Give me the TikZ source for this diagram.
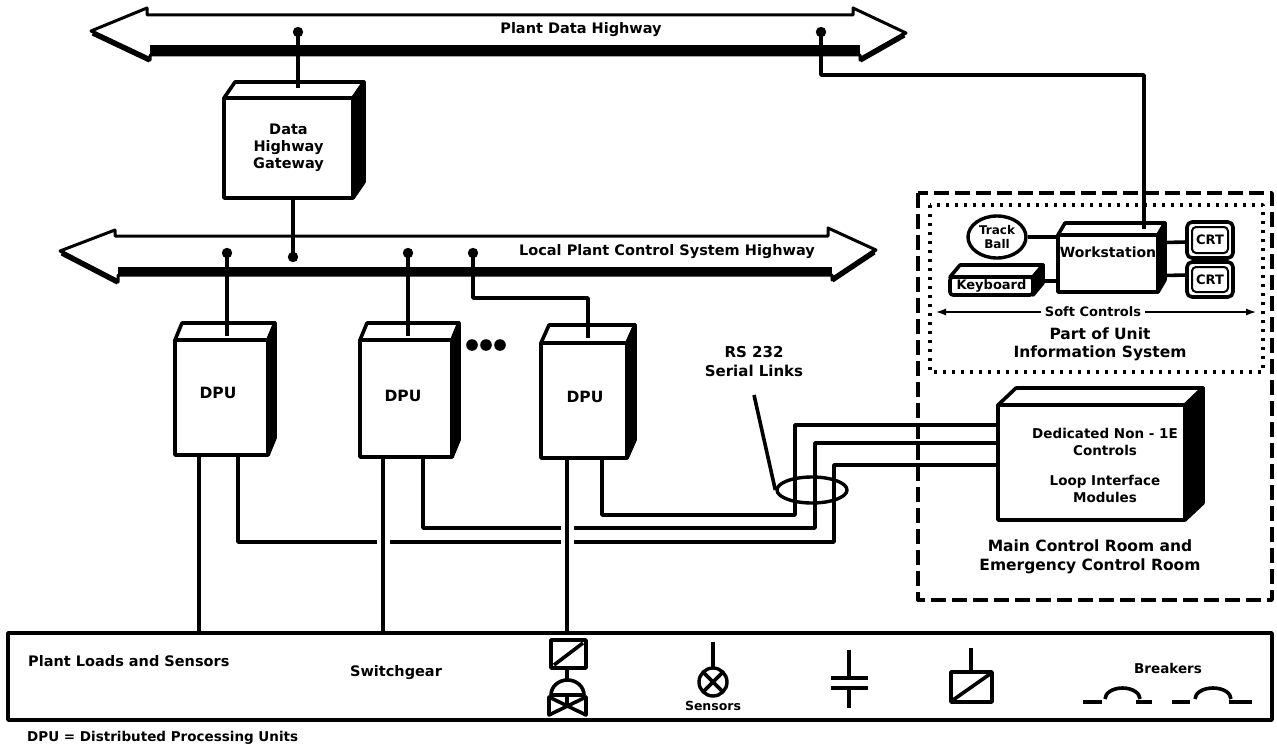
\documentclass[tikz,border=0pt]{standalone}
\usepackage{fontspec}
\setmainfont{DejaVu Sans}
\usetikzlibrary{calc,arrows.meta,shapes.geometric}
\newcommand\cubefaces[3]{%
  \draw[ln,fill=white] (#1.north west) -- ++(#2,-#3) -- ($(#1.north east)+(#2,-#3)$) -- (#1.north east) -- cycle;
  \draw[ln,fill=black] (#1.north east) -- ++(#2,-#3) -- ($(#1.south east)+(#2,-#3)$) -- (#1.south east) -- cycle;
}
\begin{document}
\begin{tikzpicture}[x=1pt,y=-1pt,line join=round,
  ln/.style={line width=3.6pt},
  fr/.style={draw,line width=3.6pt,inner sep=0pt,outer sep=0pt,fill=white},
  lab/.style={font=\bfseries\fontsize{14.5}{17}\selectfont,align=center,inner sep=0pt},
  sml/.style={font=\bfseries\fontsize{12}{14}\selectfont,align=center,inner sep=0pt},
  pin/.style={fill=black},
]
\useasboundingbox (0,0) rectangle (1277,749);

% ---------- Plant Data Highway ----------
\draw[line width=3pt,fill=white] (91,31) -- (147,8) -- (147,15) -- (853,15) -- (853,8) -- (906,33)
  -- (860,60) -- (860,55) -- (150,55) -- (150,60) -- cycle;
\fill (150,45) rectangle (860,55);
\draw[line width=5.5pt] (93,33) -- (150,60);
\draw[line width=5.5pt] (904,35) -- (860,60);
\node[lab] (pdh) at (581,30) {Plant Data Highway};

% ---------- Local Plant Control System Highway ----------
\draw[line width=3pt,fill=white] (60,251) -- (115,230) -- (115,236) -- (828,236) -- (828,228) -- (876,250)
  -- (832,280) -- (832,275) -- (118,275) -- (118,282) -- cycle;
\fill (118,267) rectangle (832,275);
\draw[line width=5.5pt] (62,253) -- (118,282);
\draw[line width=5.5pt] (874,252) -- (832,280);
\node[lab] (lpc) at (667,252) {Local Plant Control System Highway};

% ---------- pins ----------
\coordinate (pg) at (298,32);
\coordinate (pw) at (821,32);
\coordinate (pgl) at (293,257);
\coordinate (pd1) at (227,253);
\coordinate (pd2) at (408,253);
\coordinate (pd3) at (473,253);
\foreach \p in {pg,pw,pgl,pd1,pd2,pd3} \fill[pin] (\p) circle (5.2);

% ---------- Gateway ----------
\node[fr,minimum width=129pt,minimum height=100pt] (gw) at (288.5,148) {};
\cubefaces{gw}{11}{16}
\node[lab] (gwl) at (gw) {Data\\Highway\\Gateway};
\coordinate (gwtop) at (298,88);
\draw[ln] (pg) -- (gwtop);
\draw[ln] (pgl |- gw.south) -- (pgl);

% ---------- DPUs ----------
\node[fr,minimum width=93pt,minimum height=115pt] (dpu1) at (221.5,397.5) {};
\cubefaces{dpu1}{7}{17}
\node[fr,minimum width=92pt,minimum height=117pt] (dpu2) at (406,398.5) {};
\cubefaces{dpu2}{7}{17}
\node[fr,minimum width=86pt,minimum height=115pt] (dpu3) at (584,400.5) {};
\cubefaces{dpu3}{8}{18}
\node[lab,font=\bfseries\fontsize{15.5}{17}\selectfont] (l1) at (218,393) {DPU};
\node[lab,font=\bfseries\fontsize{15.5}{17}\selectfont] (l2) at (403,396) {DPU};
\node[lab,font=\bfseries\fontsize{15.5}{17}\selectfont] (l3) at (585,397) {DPU};
\foreach \x in {472,486,500} \fill (\x,345) circle (5.8);

\coordinate (t1) at (227,336);
\coordinate (t2) at (408,336);
\coordinate (t3) at (588,338);
\draw[ln] (pd1) -- (t1);
\draw[ln] (pd2) -- (t2);
\draw[ln] (pd3) -- (473,298) -| (t3);

% ---------- Plant box ----------
\node[fr,minimum width=1264pt,minimum height=87pt] (plant) at (640,676.5) {};
\node[lab,anchor=west] (plt) at (28,661) {Plant Loads and Sensors};
\node[lab] (swg) at (396,673) {Switchgear};

% ---------- Main control room ----------
\draw[line width=3.4pt,dash pattern=on 15pt off 6pt] (918,193) rectangle (1272,600);
\draw[line width=3.4pt,dash pattern=on 3pt off 6pt] (930,205) rectangle (1263,372);

\node[fr,minimum width=187pt,minimum height=115pt] (main) at (1091.5,462.5) {};
\cubefaces{main}{18}{17}
\node[lab,font=\bfseries\fontsize{13.5}{17}\selectfont] (m1) at (1105,442) {Dedicated Non - 1E\\Controls};
\node[lab,font=\bfseries\fontsize{13.5}{17}\selectfont] (m2) at (1105,489) {Loop Interface\\Modules};
\node[lab,font=\bfseries\fontsize{15.5}{19}\selectfont] (mcr) at (1090,557) {Main Control Room and\\Emergency Control Room};

% ---------- wiring DPU -> main ----------
\coordinate (d1a) at ($(dpu1.south west)+(24,0)$);
\coordinate (d1b) at ($(dpu1.south west)+(63,0)$);
\coordinate (d2a) at ($(dpu2.south west)+(23,0)$);
\coordinate (d2b) at ($(dpu2.south west)+(63,0)$);
\coordinate (d3a) at ($(dpu3.south west)+(26,0)$);
\coordinate (d3b) at ($(dpu3.south west)+(61,0)$);
\draw[ln] (d3b) -- (602,515) -- (795,515) -- (795,425) -- (main.west |- 0,425);
\draw[ln] (d2b) -- (423,528) -- (815,528) -- (815,443) -- (main.west |- 0,443);
\draw[ln] (d1b) -- (238,542) -- (834,542) -- (834,465) -- (main.west |- 0,465);
\draw[white,line width=13pt] ($(d2a)+(0,6)$) -- ($(d2a |- plant.north)+(0,-6)$);
\draw[white,line width=13pt] ($(d3a)+(0,6)$) -- ($(d3a |- plant.north)+(0,-6)$);
\draw[ln] (d1a) -- (d1a |- plant.north);
\draw[ln] (d2a) -- (d2a |- plant.north);
\draw[ln] (d3a) -- (d3a |- plant.north);
\node[draw,line width=3.4pt,ellipse,minimum width=70pt,minimum height=26pt,inner sep=0pt] (bundle) at (812,490) {};
\node[lab,font=\bfseries\fontsize{15}{19}\selectfont] (rs) at (754,362) {RS 232\\Serial Links};
\coordinate (rsp) at (754,395);
\draw[ln] (rsp) -- (bundle.west);

% ---------- Workstation group ----------
\node[fr,minimum width=100pt,minimum height=57pt] (ws) at (1108,263.5) {};
\cubefaces{ws}{7}{12}
\node[lab,font=\bfseries\fontsize{14}{16}\selectfont] (wsl) at (1108,252) {Workstation};
\coordinate (wstop) at (1144,229);
\draw[ln] (pw) -- (821,75) -| (wstop);

\node[draw,line width=3.4pt,ellipse,minimum width=58pt,minimum height=42pt,inner sep=0pt,fill=white] (tb) at (997,237) {};
\node[sml] (tbl) at (tb) {Track\\Ball};
\draw[ln] (tb.east) -- (tb.east -| ws.west);

\node[fr,minimum width=83pt,minimum height=18pt,rounded corners=3pt] (kb) at (991.5,286) {};
\cubefaces{kb}{10}{12}
\node[lab,font=\bfseries\fontsize{13}{15}\selectfont] (kbl) at (kb) {Keyboard};
\coordinate (kbs) at ($(kb.east)+(10,-5)$);
\draw[ln] (kbs) -- (kbs -| ws.west);

\node[fr,minimum width=46pt,minimum height=36pt,rounded corners=5pt] (crt1) at (1210,240) {};
\node[fr,minimum width=46pt,minimum height=35pt,rounded corners=5pt] (crt2) at (1210,279.5) {};
\foreach \c in {crt1,crt2} \draw[line width=2pt,rounded corners=4pt] ($(\c.north west)+(5,5)$) rectangle ($(\c.south east)+(-5,-5)$);
\node[lab,font=\bfseries\fontsize{13}{15}\selectfont] (c1l) at (crt1) {CRT};
\node[lab,font=\bfseries\fontsize{13}{15}\selectfont] (c2l) at (crt2) {CRT};
\draw[ln] ($(ws.east)+(7,-21)$) -- (crt1.west |- 0,242);
\draw[ln] ($(ws.east)+(7,12)$) -- (crt2.west |- 0,275);

\coordinate (scl) at (935,312);
\coordinate (scr) at (1257,312);
\draw[line width=2.8pt,{Latex[length=11pt,width=7pt]}-{Latex[length=11pt,width=7pt]}] (scl) -- (scr);
\node[lab,font=\bfseries\fontsize{13}{15}\selectfont,fill=white,inner xsep=4pt,inner ysep=2pt] (sc) at (1093,312) {Soft Controls};
\node[lab,font=\bfseries\fontsize{15.5}{18}\selectfont] (pou) at (1100,344) {Part of Unit\\Information System};

% ---------- field symbols ----------
% valve
\draw[ln] (551,640) rectangle (586,668);
\draw[ln] (554,665) -- (583,643);
\draw[ln] (567,668) -- (567,706);
\draw[ln,fill=white] (551,695) arc[start angle=180,end angle=360,x radius=16.5,y radius=15] -- cycle;
\draw[ln] (549,697) -- (586,715) -- (586,697) -- (549,715) -- cycle;
% sensor
\draw[ln] (713,642) -- (713,668);
\node[draw,line width=3.4pt,circle,minimum size=28pt,inner sep=0pt] (sens) at (713,682) {};
\draw[ln] ($(sens.center)+(-9.5,-9.5)$) -- ($(sens.center)+(9.5,9.5)$);
\draw[ln] ($(sens.center)+(-9.5,9.5)$) -- ($(sens.center)+(9.5,-9.5)$);
\node[sml,font=\bfseries\fontsize{12.5}{13}\selectfont] (sensl) at (713,706) {Sensors};
% capacitor
\draw[ln] (849,650) -- (849,678);
\draw[ln] (831,678) -- (868,678);
\draw[ln] (831,688) -- (868,688);
\draw[ln] (849,688) -- (849,708);
% relay
\draw[ln] (971,648) -- (971,672);
\draw[ln] (951,672) rectangle (992,702);
\draw[ln] (953,700) -- (990,674);
% breakers
\node[lab,font=\bfseries\fontsize{13.5}{15}\selectfont] (brk) at (1168,668) {Breakers};
\draw[ln] (1083,702) -- (1102,702);
\draw[ln] (1105,699) arc[start angle=180,end angle=360,x radius=17.5,y radius=11];
\draw[ln] (1136,702) -- (1152,702);
\draw[ln] (1172,702) -- (1190,702);
\draw[ln] (1195,699) arc[start angle=180,end angle=360,x radius=18,y radius=11];
\draw[ln] (1229,702) -- (1252,702);

\node[lab,font=\bfseries\fontsize{13.5}{15}\selectfont,anchor=west] (note) at (27,738) {DPU = Distributed Processing Units};
\end{tikzpicture}
\end{document}
